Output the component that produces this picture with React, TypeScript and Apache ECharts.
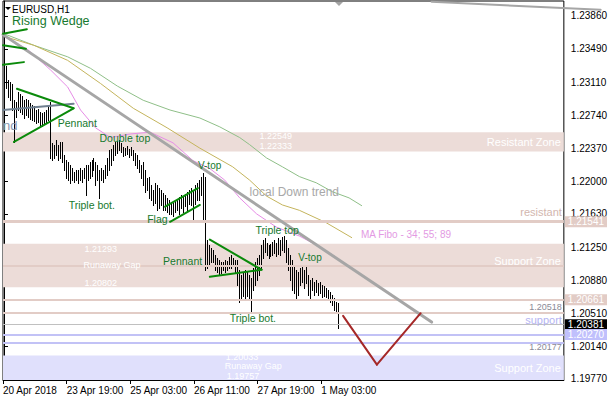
import React, { useEffect, useRef } from 'react';
import * as echarts from 'echarts';

const FONT = '"Liberation Sans", Arial, sans-serif';

// ---- axis labels ----
const xLabels = ['20 Apr 2018', '23 Apr 19:00', '25 Apr 03:00', '26 Apr 11:00', '27 Apr 19:00', '1 May 03:00'];
const xLabelBars = [-0.5, 31.5, 63.5, 95.5, 127.5, 159.5];
const yLabels = [1.1977, 1.2014, 1.2051, 1.2088, 1.2125, 1.2163, 1.22, 1.2237, 1.2274, 1.2311, 1.2349, 1.2386];

// ---- H1 bars (high / low) ----
const highs = [
  1.2332, 1.2330, 1.2314, 1.2312, 1.2309, 1.2291, 1.2289, 1.2300, 1.2298, 1.2296,
  1.2291, 1.2293, 1.2291, 1.2288, 1.2286, 1.2285, 1.2280, 1.2281, 1.2278, 1.2277,
  1.2278, 1.2280, 1.2286, 1.2289, 1.2243, 1.2241, 1.2246, 1.2241, 1.2244, 1.2244,
  1.2229, 1.2224, 1.2221, 1.2218, 1.2215, 1.2210, 1.2212, 1.2212, 1.2215, 1.2212,
  1.2215, 1.2218, 1.2218, 1.2221, 1.2224, 1.2226, 1.2221, 1.2218, 1.2212, 1.2215,
  1.2212, 1.2218, 1.2226, 1.2235, 1.2236, 1.2241, 1.2244, 1.2245, 1.2246, 1.2243,
  1.2238, 1.2237, 1.2240, 1.2236, 1.2238, 1.2235, 1.2232, 1.2229, 1.2224, 1.2218,
  1.2221, 1.2212, 1.2203, 1.2205, 1.2196, 1.2190, 1.2198, 1.2196, 1.2192, 1.2190,
  1.2187, 1.2184, 1.2181, 1.2179, 1.2176, 1.2175, 1.2179, 1.2179, 1.2182, 1.2184,
  1.2183, 1.2185, 1.2188, 1.2190, 1.2192, 1.2190, 1.2196, 1.2198, 1.2201, 1.2205,
  1.2209, 1.2205, 1.2134, 1.2128, 1.2125, 1.2122, 1.2117, 1.2113, 1.2111, 1.2109,
  1.2109, 1.2111, 1.2110, 1.2114, 1.2117, 1.2113, 1.2111, 1.2111, 1.2100, 1.2094,
  1.2097, 1.2100, 1.2097, 1.2094, 1.2091, 1.2102, 1.2109, 1.2113, 1.2117, 1.2128,
  1.2134, 1.2136, 1.2130, 1.2128, 1.2129, 1.2131, 1.2134, 1.2130, 1.2136, 1.2134,
  1.2137, 1.2138, 1.2134, 1.2125, 1.2117, 1.2111, 1.2105, 1.2100, 1.2097, 1.2102,
  1.2105, 1.2100, 1.2105, 1.2094, 1.2088, 1.2091, 1.2086, 1.2088, 1.2085, 1.2086,
  1.2083, 1.2082, 1.2079, 1.2077, 1.2075, 1.2072, 1.2068, 1.2064, 1.2063,
];
const lows = [
  1.2309, 1.2305, 1.2295, 1.2291, 1.2280, 1.2244, 1.2272, 1.2280, 1.2278, 1.2276,
  1.2271, 1.2274, 1.2272, 1.2270, 1.2269, 1.2268, 1.2265, 1.2266, 1.2263, 1.2262,
  1.2264, 1.2266, 1.2269, 1.2226, 1.2224, 1.2226, 1.2229, 1.2224, 1.2226, 1.2221,
  1.2212, 1.2203, 1.2201, 1.2198, 1.2201, 1.2199, 1.2201, 1.2198, 1.2201, 1.2199,
  1.2203, 1.2184, 1.2201, 1.2203, 1.2206, 1.2212, 1.2196, 1.2201, 1.2181, 1.2201,
  1.2199, 1.2203, 1.2207, 1.2212, 1.2218, 1.2224, 1.2229, 1.2232, 1.2235, 1.2233,
  1.2228, 1.2229, 1.2230, 1.2227, 1.2229, 1.2224, 1.2218, 1.2215, 1.2210, 1.2203,
  1.2196, 1.2188, 1.2190, 1.2181, 1.2179, 1.2173, 1.2175, 1.2167, 1.2170, 1.2173,
  1.2167, 1.2167, 1.2165, 1.2163, 1.2163, 1.2160, 1.2165, 1.2167, 1.2163, 1.2170,
  1.2165, 1.2172, 1.2167, 1.2174, 1.2173, 1.2156, 1.2174, 1.2179, 1.2179, 1.2184,
  1.2156, 1.2100, 1.2102, 1.2105, 1.2109, 1.2109, 1.2100, 1.2097, 1.2094, 1.2096,
  1.2100, 1.2097, 1.2100, 1.2102, 1.2102, 1.2105, 1.2097, 1.2083, 1.2064, 1.2066,
  1.2070, 1.2066, 1.2070, 1.2066, 1.2052, 1.2077, 1.2083, 1.2088, 1.2094, 1.2102,
  1.2113, 1.2120, 1.2117, 1.2113, 1.2116, 1.2117, 1.2119, 1.2116, 1.2118, 1.2117,
  1.2122, 1.2120, 1.2109, 1.2100, 1.2088, 1.2077, 1.2074, 1.2066, 1.2072, 1.2083,
  1.2086, 1.2079, 1.2085, 1.2072, 1.2068, 1.2077, 1.2072, 1.2075, 1.2072, 1.2074,
  1.2069, 1.2070, 1.2069, 1.2066, 1.2064, 1.2060, 1.2055, 1.2054, 1.2034,
];

// ---- moving averages "MA Fibo 34; 55; 89" : [bar, price] ----
const ma34 = [
  [0, 1.2363], [12, 1.2348], [23.5, 1.2325], [32, 1.2306], [38.5, 1.2280], [46, 1.2260],
  [53.5, 1.2249], [63.5, 1.2253], [73.5, 1.2255], [85, 1.2243], [95, 1.2223], [103.5, 1.2214],
  [111, 1.2201], [118.5, 1.2181], [127, 1.2163], [137, 1.2148], [148.5, 1.2138], [157, 1.2128],
  [165, 1.2117], [172, 1.2106],
];
const ma55 = [
  [0, 1.2363], [15, 1.2353], [32, 1.2336], [48.5, 1.2310], [65, 1.2282], [82, 1.2260],
  [98.5, 1.2237], [115, 1.2216], [123.5, 1.2201], [132, 1.2183], [140, 1.2173], [148.5, 1.2167],
  [162, 1.2153], [175, 1.2136],
];
const ma89 = [
  [0, 1.2366], [15, 1.2353], [32, 1.2340], [43.5, 1.2327], [57, 1.2307], [70, 1.2291],
  [83.5, 1.2280], [98.5, 1.2271], [108.5, 1.2261], [118.5, 1.2249], [123.5, 1.2241], [132, 1.2226],
  [140, 1.2216], [148.5, 1.2205], [157, 1.2198], [165, 1.2188], [173.5, 1.2181], [180, 1.2172],
];

// ---- zones and levels ----
const resistantZone = [1.22333, 1.22549];
const supportZoneUpper = [1.20802, 1.21293];
const supportZoneLower = [1.19757, 1.20033];
const resistantLevel = 1.21541;
const innerLevel = 1.2105;
const level1 = 1.20661;
const level2 = 1.20518;
const bidPrice = 1.20381;
const supportLevel = 1.2027;
const level3 = 1.20177;

// ---- drawn objects: [bar1, price1, bar2, price2] ----
const greenLines = [
  [-0.5, 1.2366, 11.5, 1.2371],
  [-0.5, 1.2353, 11, 1.2349],
  [-0.5, 1.2331, 10, 1.2334],
  [6.5, 1.2304, 35, 1.2282],
  [5, 1.2244, 35, 1.2282],
  [81, 1.2171, 97.5, 1.2192],
  [83.5, 1.2154, 98.5, 1.2173],
  [103.5, 1.2134, 129.5, 1.2100],
  [103.5, 1.2092, 129.5, 1.2100],
];
const slateLines = [[-0.5, 1.2280, 35, 1.2287]];
const trendLines = [[-0.5, 1.2365, 215, 1.2041]];
const topLines = [[215, 1.2402, 300, 1.2393]];
const projection = [
  [170.5, 1.2048, 187.5, 1.1993],
  [187.5, 1.1993, 209.5, 1.2051],
];

const GREEN_TXT = '#16792e';
const WHITE = '#ffffff';
const notes = [
  { text: 'Rising Wedge', i: 4, p: 1.2380, color: GREEN_TXT, size: 12.5 },
  { text: 'Pennant', i: 27, p: 1.2265, color: GREEN_TXT, size: 10.5 },
  { text: 'nd', i: -0.5, p: 1.2263, color: '#8797b0', size: 13 },
  { text: 'Double top', i: 48, p: 1.2249, color: GREEN_TXT, size: 10.5 },
  { text: 'Triple bot.', i: 32.5, p: 1.2173, color: GREEN_TXT, size: 10.5 },
  { text: 'Flag', i: 72, p: 1.2157, color: GREEN_TXT, size: 10.5 },
  { text: 'V-top', i: 97.5, p: 1.2218, color: GREEN_TXT, size: 10 },
  { text: 'local Down trend', i: 123.5, p: 1.2188, color: '#a8a8a8', size: 12 },
  { text: 'Pennant', i: 80, p: 1.2110, color: GREEN_TXT, size: 10.5 },
  { text: 'Triple top', i: 126.5, p: 1.2145, color: GREEN_TXT, size: 10.5 },
  { text: 'V-top', i: 148, p: 1.2114, color: GREEN_TXT, size: 10 },
  { text: 'Triple bot.', i: 113.5, p: 1.2046, color: GREEN_TXT, size: 10.5 },
  { text: 'MA Fibo - 34; 55; 89', i: 179.5, p: 1.2140, color: '#e39ae3', size: 10 },
  { text: resistantZone[1].toFixed(5), i: 128.5, p: 1.2251, color: WHITE, size: 9 },
  { text: resistantZone[0].toFixed(5), i: 128.5, p: 1.2239, color: WHITE, size: 9 },
  { text: supportZoneUpper[1].toFixed(5), i: 40.5, p: 1.2123, color: WHITE, size: 9 },
  { text: 'Runaway Gap', i: 40, p: 1.2105, color: WHITE, size: 9 },
  { text: supportZoneUpper[0].toFixed(5), i: 40.5, p: 1.2085, color: WHITE, size: 9 },
  { text: supportZoneLower[1].toFixed(5), i: 111.5, p: 1.2002, color: WHITE, size: 9 },
  { text: 'Runaway Gap', i: 111, p: 1.1991, color: WHITE, size: 9 },
  { text: supportZoneLower[0].toFixed(5), i: 112, p: 1.1980, color: WHITE, size: 9 },
  { text: 'resistant', i: 280.5, p: 1.2165, color: '#d2b6ae', size: 11, align: 'right' },
  { text: 'support', i: 280.5, p: 1.2043, color: '#b4b4f2', size: 11, align: 'right' },
  { text: level2.toFixed(5), i: 280.5, p: 1.2058, color: '#8a8a96', size: 9, align: 'right' },
  { text: level3.toFixed(5), i: 280.5, p: 1.2013, color: '#8a8a96', size: 9, align: 'right' },
];

const PINK_BAND = '#ecdcd8';
const PINK_LINE = '#e2ccc6';
const LAV_BAND = '#e0e0fc';
const LAV_LINE = '#c2c2f6';

function segSeries(data: number[][], color: string, width: number, z: number) {
  return {
    type: 'custom',
    z,
    silent: true,
    clip: false,
    data,
    encode: { x: [0, 2], y: [1, 3] },
    renderItem: (_p: any, api: any) => {
      const a = api.coord([api.value(0), api.value(1)]);
      const b = api.coord([api.value(2), api.value(3)]);
      return {
        type: 'line',
        shape: { x1: a[0], y1: a[1], x2: b[0], y2: b[1] },
        style: { stroke: color, lineWidth: width, lineCap: 'round' },
      };
    },
  };
}

function tag(bg: string) {
  return {
    show: true,
    position: 'end',
    distance: 1,
    formatter: (p: any) => Number(p.value).toFixed(5),
    backgroundColor: bg,
    color: '#fff',
    fontSize: 10,
    lineHeight: 11,
    fontFamily: FONT,
    padding: [0, 3, 0, 3],
  };
}

export default function App() {
  const ref = useRef<HTMLDivElement>(null);
  useEffect(() => {
    document.body.style.margin = '0';
    const chart = echarts.init(ref.current!, null, { renderer: 'svg' });
    const option: any = {
      animation: false,
      backgroundColor: '#ffffff',
      grid: { left: 2, top: 1, width: 564, height: 379, show: true, borderColor: '#000', borderWidth: 1, backgroundColor: 'transparent' },
      xAxis: {
        type: 'value',
        min: -0.5,
        max: 281.5,
        axisLine: { show: true, lineStyle: { color: '#000', width: 1 } },
        axisTick: { show: true, customValues: xLabelBars, length: 4, lineStyle: { color: '#000' } },
        axisLabel: {
          show: true,
          customValues: xLabelBars,
          showMinLabel: true,
          formatter: (v: number) => xLabels[Math.round((v + 0.5) / 32)] ?? '',
          align: 'left',
          margin: 5,
          color: '#000',
          fontSize: 10,
          fontFamily: FONT,
        },
        splitLine: { show: false },
      },
      yAxis: {
        type: 'value',
        position: 'right',
        min: 1.19757,
        max: 1.24029,
        axisLine: { show: true, lineStyle: { color: '#000', width: 1 } },
        axisTick: { show: true, customValues: yLabels, length: 4, lineStyle: { color: '#000' } },
        axisLabel: {
          show: true,
          customValues: yLabels,
          formatter: (v: number) => v.toFixed(5),
          margin: 7,
          color: '#000',
          fontSize: 10,
          fontFamily: FONT,
        },
        splitLine: { show: false },
      },
      graphic: [
        { type: 'polygon', shape: { points: [[5, 7], [11, 7], [8, 10]] }, style: { fill: '#000' } },
        { type: 'text', left: 12, top: 4, style: { text: 'EURUSD,H1', font: `10px ${FONT}`, fill: '#000' } },
        { type: 'polygon', shape: { points: [[335, 2], [343, 2], [339, 6]] }, style: { fill: '#a4a4a4' } },
      ],
      series: [
        {
          type: 'line',
          z: 1,
          silent: true,
          data: [],
          markArea: {
            silent: true,
            data: [
              [
                { yAxis: resistantZone[0], itemStyle: { color: PINK_BAND }, label: { show: true, position: 'insideRight', distance: 3, formatter: 'Resistant Zone', color: '#fff', fontSize: 11, fontFamily: FONT } },
                { yAxis: resistantZone[1] },
              ],
              [
                { yAxis: supportZoneUpper[0], itemStyle: { color: PINK_BAND }, label: { show: true, position: 'insideRight', distance: 3, offset: [0, -5], formatter: 'Support Zone', color: '#fff', fontSize: 11, fontFamily: FONT } },
                { yAxis: supportZoneUpper[1] },
              ],
              [
                { yAxis: supportZoneLower[0], itemStyle: { color: LAV_BAND }, label: { show: true, position: 'insideRight', distance: 3, formatter: 'Support Zone', color: '#fff', fontSize: 11, fontFamily: FONT } },
                { yAxis: supportZoneLower[1] },
              ],
            ],
          },
        },
        {
          type: 'line',
          z: 2,
          silent: true,
          data: [],
          markLine: {
            silent: true,
            precision: 5,
            symbol: ['none', 'none'],
            data: [
              { yAxis: resistantLevel, lineStyle: { color: PINK_LINE, width: 3, type: 'solid' }, label: tag(PINK_LINE) },
              { yAxis: innerLevel, lineStyle: { color: PINK_LINE, width: 2, type: 'solid' }, label: { show: false } },
              { yAxis: level1, lineStyle: { color: PINK_LINE, width: 2, type: 'solid' }, label: tag(PINK_LINE) },
              { yAxis: level2, lineStyle: { color: PINK_LINE, width: 2, type: 'solid' }, label: { show: false } },
              { yAxis: bidPrice, lineStyle: { color: '#c0c0c0', width: 1, type: 'solid' }, label: tag('#000000') },
              { yAxis: supportLevel, lineStyle: { color: LAV_LINE, width: 2, type: 'solid' }, label: tag('#c0c0fc') },
              { yAxis: level3, lineStyle: { color: LAV_LINE, width: 2, type: 'solid' }, label: { show: false } },
            ],
          },
        },
        { type: 'line', z: 3, silent: true, data: ma89, symbol: 'none', lineStyle: { color: '#8fbf88', width: 1 } },
        { type: 'line', z: 3, silent: true, data: ma55, symbol: 'none', lineStyle: { color: '#c4b45c', width: 1 } },
        { type: 'line', z: 3, silent: true, data: ma34, symbol: 'none', lineStyle: { color: '#e68ce6', width: 1 } },
        {
          type: 'custom',
          z: 4,
          silent: true,
          data: highs.map((h, i) => [i, lows[i], h]),
          encode: { x: 0, y: [1, 2] },
          renderItem: (_p: any, api: any) => {
            const i = api.value(0);
            const top = api.coord([i, api.value(2)]);
            const bot = api.coord([i, api.value(1)]);
            const x = Math.round(top[0]) + 0.5;
            return {
              type: 'line',
              shape: { x1: x, y1: Math.round(top[1]), x2: x, y2: Math.round(bot[1]) + 1 },
              style: { stroke: '#000', lineWidth: 1 },
            };
          },
        },
        segSeries(trendLines, '#a6a6a6', 3, 5),
        segSeries(topLines, '#a6a6a6', 2, 5),
        segSeries(slateLines, '#708090', 2, 5),
        segSeries(greenLines, '#0a8a0a', 2, 6),
        segSeries(projection, '#a52828', 2, 6),
        {
          type: 'custom',
          z: 7,
          silent: true,
          clip: false,
          data: notes.map((n, k) => [n.i, n.p, k]),
          renderItem: (_p: any, api: any) => {
            const n: any = notes[api.value(2)];
            const c = api.coord([api.value(0), api.value(1)]);
            return {
              type: 'text',
              x: c[0],
              y: c[1],
              style: {
                text: n.text,
                fill: n.color,
                font: `${n.size}px ${FONT}`,
                textAlign: n.align || 'left',
                textVerticalAlign: 'middle',
              },
            };
          },
        },
      ],
    };
    chart.setOption(option);
    return () => chart.dispose();
  }, []);
  return <div ref={ref} style={{ position: 'fixed', left: 0, top: 0, width: 610, height: 400, background: '#fff' }} />;
}
